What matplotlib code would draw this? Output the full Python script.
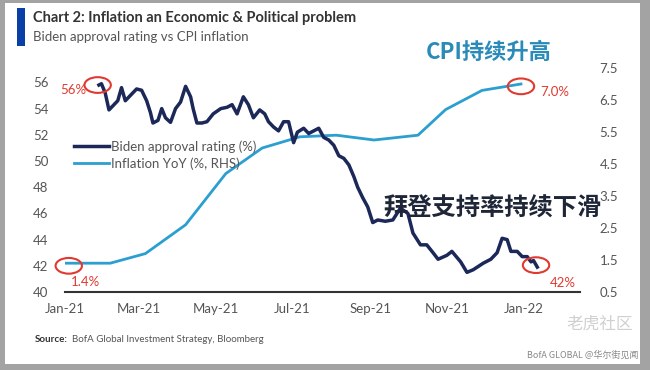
import numpy as np
import matplotlib
matplotlib.use("Agg")
import matplotlib.pyplot as plt
from matplotlib.patches import Ellipse, Rectangle

plt.rcParams['font.family'] = ['Lato', 'DejaVu Sans']

# Biden approval rating (%) - days since 2021-01-01
appr_day = [27, 29, 32, 35, 38, 42, 45, 48, 52, 57, 61, 65, 68, 70, 74, 77, 80, 84, 88, 92,
            96, 100, 102, 105, 109, 113, 118, 124, 129, 133, 137, 142, 146, 150, 155, 159, 162,
            166, 170, 174, 178, 182, 185, 190, 194, 198, 202, 206, 210, 214, 218, 222, 226, 230,
            233, 237, 241, 245, 249, 255, 261, 267, 273, 277, 283, 288, 293, 297, 304, 308, 315,
            320, 325, 333, 339, 344, 348, 352, 355, 360, 364, 368, 371, 373, 376]
appr_val = [55.8, 55.9, 55.2, 53.9, 54.2, 54.6, 55.6, 54.6, 55.0, 55.5, 55.4, 54.6, 53.7, 52.9,
            53.1, 54.0, 53.3, 52.95, 54.0, 54.5, 55.7, 54.9, 54.0, 52.9, 52.9, 53.0, 53.6, 54.0,
            54.1, 54.3, 53.6, 54.9, 54.3, 53.3, 53.9, 53.6, 53.0, 52.6, 52.3, 53.0, 53.0, 51.4,
            52.2, 52.5, 52.1, 52.3, 52.5, 51.8, 51.6, 51.2, 50.4, 50.2, 49.7, 48.8, 48.0, 47.2,
            46.5, 45.3, 45.5, 45.4, 45.5, 46.4, 46.0, 44.5, 43.6, 43.6, 43.0, 42.5, 42.8, 43.1,
            42.3, 41.5, 41.7, 42.2, 42.5, 43.0, 44.1, 44.0, 43.1, 43.1, 42.7, 42.7, 42.3, 42.4,
            41.9]

# Inflation YoY (%)
cpi_day = [0, 36, 64, 96, 128, 157, 187, 216, 246, 281, 303, 332, 363]
cpi_val = [1.4, 1.4, 1.7, 2.6, 4.2, 5.0, 5.35, 5.4, 5.25, 5.4, 6.2, 6.8, 7.0]

xtick_labels = ['Jan-21', 'Mar-21', 'May-21', 'Jul-21', 'Sep-21', 'Nov-21', 'Jan-22']
xtick_dates = ['2021-01-01', '2021-03-01', '2021-05-01', '2021-07-01', '2021-09-01',
               '2021-11-01', '2022-01-01']

base = np.datetime64('2021-01-01')
appr_dates = base + np.array(appr_day).astype('timedelta64[D]')
cpi_dates = base + np.array(cpi_day).astype('timedelta64[D]')

navy = '#1b2858'
blue = '#2b9fd0'
red = '#e03a30'
grey = '#555555'

fig = plt.figure(figsize=(6.5, 3.7), dpi=100, facecolor='#a3a3a3')
fig.patches.append(Rectangle((5/650, 6/370), 635/650, 361/370, transform=fig.transFigure,
                             facecolor='white', edgecolor='none', zorder=-10))

ax = fig.add_axes([65/650, 78/370, 515/650, 224/370])
ax2 = ax.twinx()
ax.set_zorder(2)
ax2.set_zorder(1)
ax.patch.set_visible(False)
ax2.patch.set_visible(False)

l1, = ax.plot(appr_dates, appr_val, color=navy, lw=2.5, zorder=3,
              label='Biden approval rating (%)')
l2, = ax2.plot(cpi_dates, cpi_val, color=blue, lw=2.0, label='Inflation YoY (%, RHS)')

ax.set_xlim(base, base + np.timedelta64(410, 'D'))
ax.set_ylim(40, 57.1)
ax2.set_ylim(0.5, 7.5)
ax.set_yticks(range(40, 57, 2))
ax2.set_yticks([0.5, 1.5, 2.5, 3.5, 4.5, 5.5, 6.5, 7.5])
ax.set_xticks([np.datetime64(d) for d in xtick_dates])
ax.set_xticklabels(xtick_labels)

for a in (ax, ax2):
    for s in a.spines.values():
        s.set_visible(False)
    a.tick_params(length=0, colors=grey, labelsize=9.5)
ax.spines['bottom'].set_visible(True)
ax.spines['bottom'].set_color('#333333')
ax.spines['bottom'].set_linewidth(1.5)
ax.tick_params(axis='x', pad=8)
ax.tick_params(axis='y', pad=12)
ax2.tick_params(axis='y', pad=14)

leg = ax.legend(handles=[l1, l2], loc='upper left', bbox_to_anchor=(0.0, 0.72),
                frameon=False, fontsize=9.5, handlelength=2.6, handletextpad=0.2,
                labelspacing=0.35, borderaxespad=0.3)
for t in leg.get_texts():
    t.set_color(grey)


def day(n):
    return base + np.timedelta64(n, 'D')


# red circles and labels
circles = [(26, 55.8), (375, 42.05), (3, 42.0), (363, 55.7)]
for d, v in circles:
    ax.add_patch(Ellipse((day(d), v), 21, 1.2, fill=False, ec=red, lw=1.5, zorder=5,
                         clip_on=False))
ax.text(day(17), 55.4, '56%', color=red, fontsize=9.5, ha='right', va='center')
ax.text(day(386), 40.7, '42%', color=red, fontsize=9.5, ha='left', va='center')
ax.text(day(5), 40.8, '1.4%', color=red, fontsize=9.5, ha='left', va='center')
ax.text(day(378), 55.25, '7.0%', color=red, fontsize=9.5, ha='left', va='center')

# header
fig.patches.append(Rectangle((17/650, 1 - 46/370), 8/650, 38/370, transform=fig.transFigure,
                             facecolor='#0b3fa8', edgecolor='none'))
fig.text(33/650, 1 - 18/370, 'Chart 2: Inflation an Economic & Political problem',
         fontsize=10.5, fontweight='bold', color='#333333', va='center')
fig.text(33/650, 1 - 37/370, 'Biden approval rating vs CPI inflation',
         fontsize=9.5, color='#555555', va='center')

cjk = ['Noto Sans CJK SC', 'DejaVu Sans']
fig.text(489/650, 1 - 52/370, 'CPI持续升高', family=cjk, fontsize=16, fontweight='bold',
         color='#2a8bb8', ha='center', va='center')
fig.text(493/650, 1 - 209/370, '拜登支持率持续下滑', family=cjk, fontsize=17.5,
         fontweight='bold', color='#1e2638', ha='center', va='center')

fig.text(35/650, 1 - 340/370, 'Source:', fontsize=7, fontweight='bold', color='#333333',
         va='center')
fig.text(72/650, 1 - 340/370, 'BofA Global Investment Strategy, Bloomberg', fontsize=7,
         color='#555555', va='center')
fig.text(600/650, 1 - 324/370, '老虎社区', family=cjk, fontsize=12, color='#d0d0d0',
         ha='center', va='center')
fig.text(638/650, 1 - 355/370, 'BofA GLOBAL @华尔街见闻', family=cjk, fontsize=6.5,
         color='#888888', ha='right', va='center')

fig.savefig('out.png', dpi=100, facecolor=fig.get_facecolor())
